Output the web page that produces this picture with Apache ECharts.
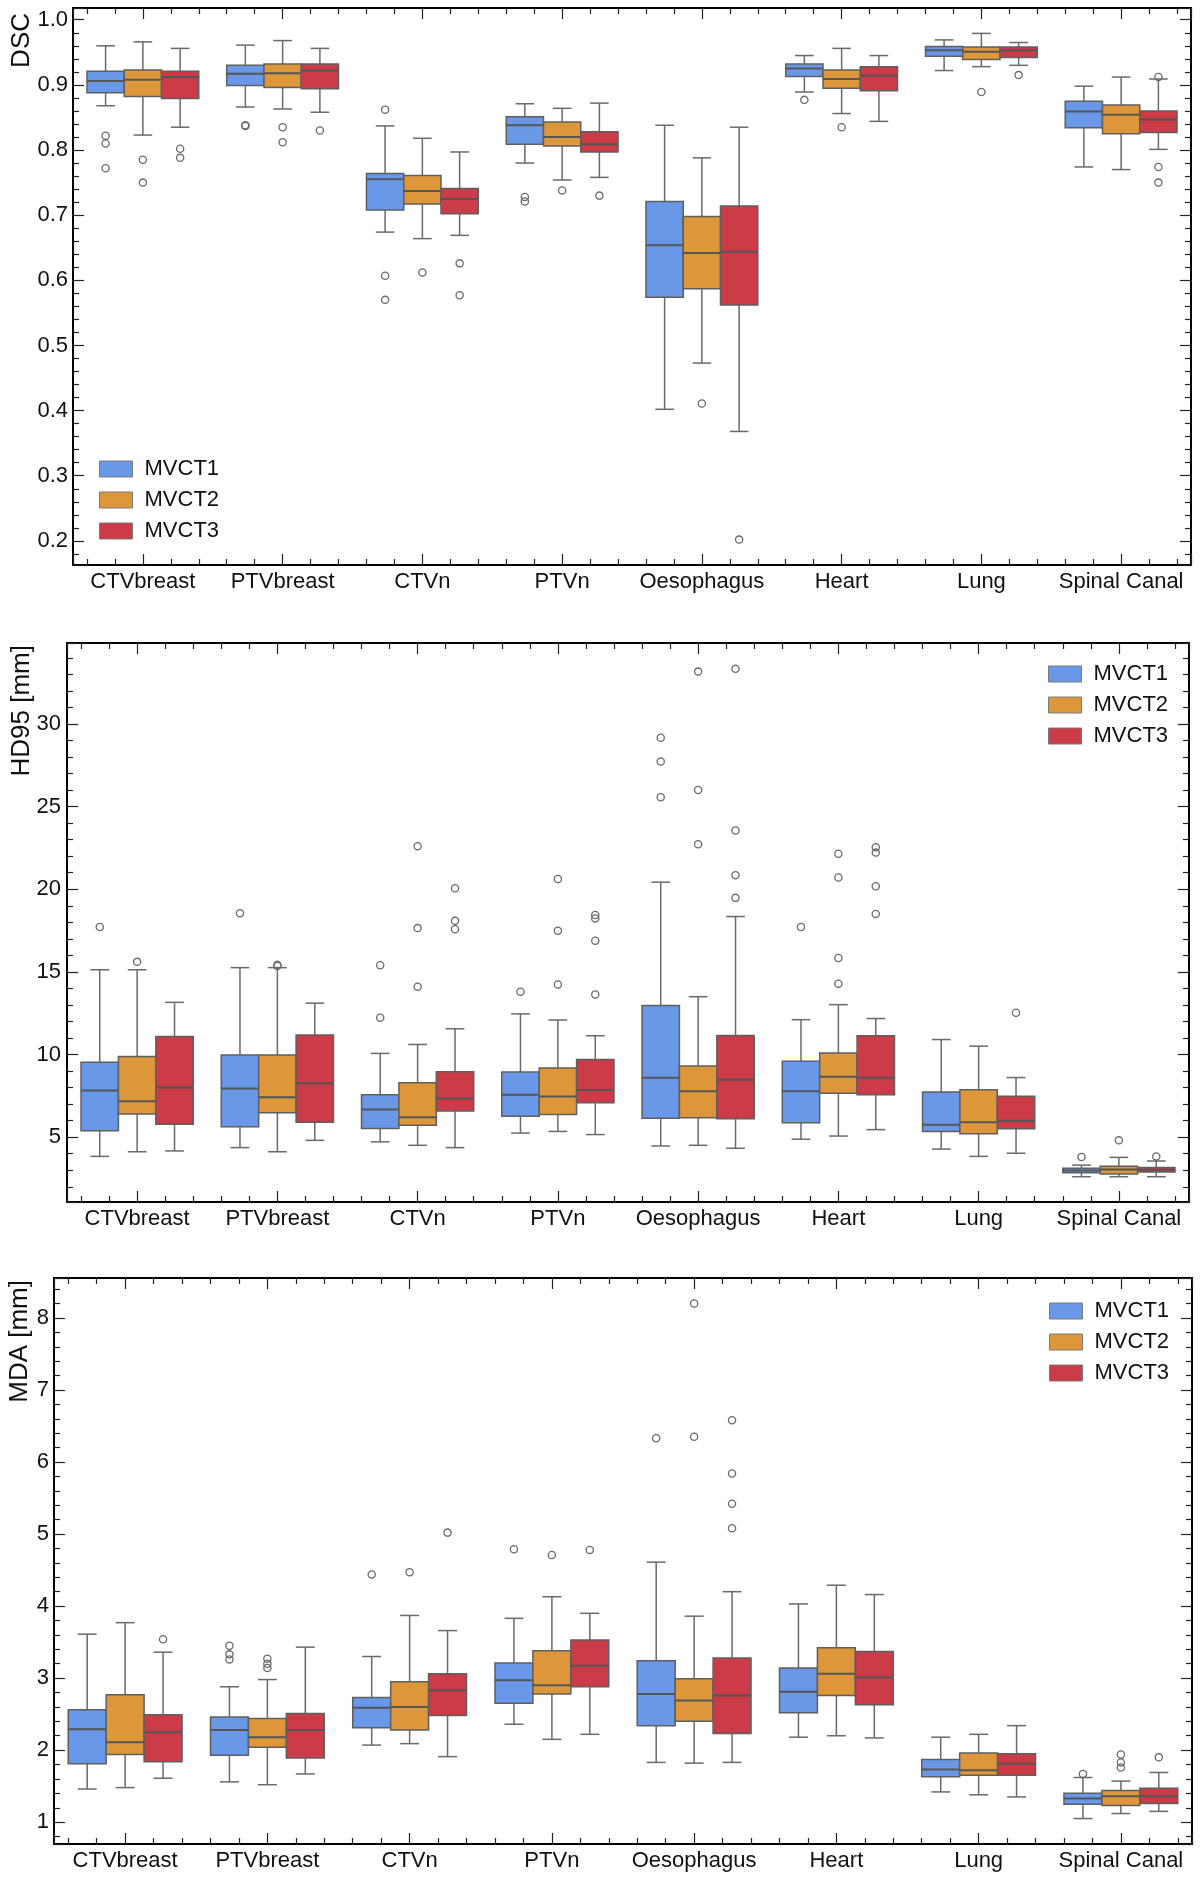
<!DOCTYPE html>
<html>
<head>
<meta charset="utf-8">
<script src="https://cdn.jsdelivr.net/npm/echarts@6/dist/echarts.min.js"></script>
<style>
  html, body { margin: 0; padding: 0; background: #fff; }
  #main { width: 1200px; height: 1879px; }
</style>
</head>
<body>
<div id="main"></div>
<script>
const organs = ['CTVbreast', 'PTVbreast', 'CTVn', 'PTVn', 'Oesophagus', 'Heart', 'Lung', 'Spinal Canal'];
const scans = ['MVCT1', 'MVCT2', 'MVCT3'];
const scanColors = ['#6a98e8', '#dd963a', '#cb3b48'];

// each row: [lower whisker, Q1, median, Q3, upper whisker]
const dscMvct1 = [
  [0.868, 0.888, 0.906, 0.921, 0.960],
  [0.866, 0.899, 0.917, 0.930, 0.961],
  [0.674, 0.708, 0.755, 0.764, 0.837],
  [0.780, 0.809, 0.838, 0.851, 0.871],
  [0.402, 0.574, 0.654, 0.721, 0.838],
  [0.889, 0.913, 0.925, 0.932, 0.945],
  [0.922, 0.944, 0.953, 0.959, 0.969],
  [0.774, 0.834, 0.859, 0.875, 0.898]
];
const dscMvct2 = [
  [0.823, 0.882, 0.908, 0.923, 0.966],
  [0.863, 0.896, 0.918, 0.932, 0.968],
  [0.664, 0.717, 0.737, 0.761, 0.818],
  [0.754, 0.806, 0.820, 0.843, 0.864],
  [0.473, 0.587, 0.642, 0.698, 0.788],
  [0.856, 0.895, 0.909, 0.923, 0.956],
  [0.928, 0.939, 0.951, 0.958, 0.979],
  [0.770, 0.825, 0.854, 0.869, 0.912]
];
const dscMvct3 = [
  [0.835, 0.879, 0.912, 0.921, 0.956],
  [0.858, 0.894, 0.922, 0.932, 0.956],
  [0.669, 0.702, 0.725, 0.741, 0.797],
  [0.758, 0.797, 0.809, 0.828, 0.872],
  [0.368, 0.562, 0.644, 0.714, 0.835],
  [0.844, 0.891, 0.914, 0.928, 0.945],
  [0.930, 0.942, 0.953, 0.958, 0.965],
  [0.801, 0.827, 0.847, 0.860, 0.909]
];
// outliers per organ
const dscOut1 = [[0.822, 0.810, 0.772], [0.838, 0.837], [0.862, 0.607, 0.570], [0.728, 0.721], [], [0.877], [], []];
const dscOut2 = [[0.785, 0.750], [0.835, 0.812], [0.612], [0.738], [0.411], [0.835], [0.889], []];
const dscOut3 = [[0.802, 0.788], [0.830], [0.626, 0.577], [0.730], [0.202], [], [0.915], [0.912, 0.774, 0.750]];

const hdMvct1 = [
  [3.84, 5.39, 7.83, 9.54, 15.13],
  [4.37, 5.63, 7.94, 9.98, 15.26],
  [4.72, 5.53, 6.67, 7.57, 10.07],
  [5.25, 6.27, 7.57, 8.94, 12.46],
  [4.47, 6.14, 8.59, 12.97, 20.43],
  [4.88, 5.88, 7.78, 9.59, 12.11],
  [4.28, 5.35, 5.76, 7.73, 10.91],
  [2.61, 2.85, 2.98, 3.12, 3.31]
];
const hdMvct2 = [
  [4.12, 6.41, 7.18, 9.89, 15.13],
  [4.12, 6.48, 7.41, 9.98, 15.26],
  [4.51, 5.72, 6.20, 8.29, 10.61],
  [5.35, 6.37, 7.46, 9.19, 12.09],
  [4.51, 6.18, 7.78, 9.31, 13.50],
  [5.07, 7.66, 8.66, 10.10, 13.02],
  [3.84, 5.21, 5.90, 7.87, 10.51],
  [2.61, 2.78, 3.05, 3.24, 3.78]
];
const hdMvct3 = [
  [4.17, 5.79, 8.01, 11.09, 13.16],
  [4.81, 5.90, 8.27, 11.19, 13.11],
  [4.37, 6.58, 7.34, 8.96, 11.56],
  [5.16, 7.09, 7.85, 9.70, 11.14],
  [4.33, 6.11, 8.48, 11.16, 18.35],
  [5.46, 7.57, 8.59, 11.14, 12.18],
  [4.03, 5.51, 6.00, 7.48, 8.61],
  [2.61, 2.89, 3.03, 3.17, 3.56]
];
const hdOut1 = [[17.72], [18.55], [15.40, 12.23], [13.80], [29.17, 27.73, 25.57], [17.72], [], [3.80]];
const hdOut2 = [[15.61], [15.36, 15.43], [22.61, 17.65, 14.11], [20.62, 17.49, 14.24], [33.17, 26.01, 22.72], [22.15, 20.71, 15.84, 14.29], [], [4.81]];
const hdOut3 = [[], [], [20.06, 18.09, 17.58], [18.44, 18.23, 16.89, 13.64], [33.34, 23.56, 20.85, 19.48], [22.54, 22.22, 20.18, 18.51], [12.53], [3.84]];

const mdaMvct1 = [
  [1.46, 1.81, 2.29, 2.56, 3.61],
  [1.56, 1.93, 2.28, 2.46, 2.88],
  [2.07, 2.31, 2.59, 2.73, 3.30],
  [2.36, 2.65, 2.97, 3.21, 3.83],
  [1.83, 2.34, 2.78, 3.24, 4.61],
  [2.18, 2.52, 2.81, 3.14, 4.03],
  [1.42, 1.63, 1.73, 1.87, 2.18],
  [1.05, 1.25, 1.33, 1.40, 1.62]
];
const mdaMvct2 = [
  [1.48, 1.94, 2.11, 2.77, 3.77],
  [1.52, 2.04, 2.18, 2.44, 2.98],
  [2.09, 2.28, 2.60, 2.95, 3.87],
  [2.15, 2.78, 2.90, 3.38, 4.13],
  [1.82, 2.40, 2.69, 2.99, 3.86],
  [2.20, 2.76, 3.06, 3.42, 4.29],
  [1.38, 1.65, 1.72, 1.96, 2.22],
  [1.12, 1.23, 1.36, 1.44, 1.57]
];
const mdaMvct3 = [
  [1.61, 1.84, 2.25, 2.49, 3.36],
  [1.67, 1.89, 2.28, 2.51, 3.43],
  [1.91, 2.48, 2.83, 3.06, 3.66],
  [2.22, 2.88, 3.17, 3.53, 3.90],
  [1.83, 2.23, 2.76, 3.28, 4.20],
  [2.17, 2.63, 3.01, 3.37, 4.16],
  [1.35, 1.65, 1.81, 1.95, 2.34],
  [1.15, 1.26, 1.36, 1.47, 1.69]
];
const mdaOut1 = [[], [3.45, 3.33, 3.26], [4.44], [4.79], [6.33], [], [], [1.67]];
const mdaOut2 = [[], [3.27, 3.20, 3.14], [4.47], [4.71], [8.20, 6.35], [], [], [1.94, 1.83, 1.76]];
const mdaOut3 = [[3.54], [], [5.02], [4.78], [6.58, 5.84, 5.42, 5.08], [], [], [1.90]];

const FONT = "'Liberation Sans', Arial, Helvetica, sans-serif";
const BOX_W = 0.8 / 3;

const panels = [
  { title: 'DSC', boxes: [dscMvct1, dscMvct2, dscMvct3], outs: [dscOut1, dscOut2, dscOut3],
    grid: { left: 73, top: 8, right: 9, height: 557 }, yMin: 0.163, yMax: 1.018, split: 8, dec: 1,
    labelMargin: 5, titlePos: [22, 13],
    legend: { left: 94, top: 453 } },
  { title: 'HD95 [mm]', boxes: [hdMvct1, hdMvct2, hdMvct3], outs: [hdOut1, hdOut2, hdOut3],
    grid: { left: 67, top: 643, right: 11, height: 559 }, yMin: 1.08, yMax: 34.9, split: 7, dec: 0,
    labelMargin: 6, titlePos: [22, 645],
    legend: { left: 1043, top: 658 } },
  { title: 'MDA [mm]', boxes: [mdaMvct1, mdaMvct2, mdaMvct3], outs: [mdaOut1, mdaOut2, mdaOut3],
    grid: { left: 54, top: 1278, right: 8, height: 566 }, yMin: 0.697, yMax: 8.555, split: 8, dec: 0,
    labelMargin: 5, titlePos: [20, 1280],
    legend: { left: 1044, top: 1295 } }
];

function boxRender(offset) {
  return function (params, api) {
    const x = api.value(0) + offset;
    const lo = api.coord([x, api.value(1)]);
    const q1 = api.coord([x, api.value(2)]);
    const med = api.coord([x, api.value(3)]);
    const q3 = api.coord([x, api.value(4)]);
    const hi = api.coord([x, api.value(5)]);
    const w = api.size([BOX_W, 0])[0];
    const cx = lo[0];
    const ws = { stroke: '#6a6a6a', lineWidth: 1.5 };
    return {
      type: 'group',
      children: [
        { type: 'line', shape: { x1: cx, y1: hi[1], x2: cx, y2: q3[1] }, style: ws },
        { type: 'line', shape: { x1: cx, y1: q1[1], x2: cx, y2: lo[1] }, style: ws },
        { type: 'line', shape: { x1: cx - w / 4, y1: hi[1], x2: cx + w / 4, y2: hi[1] }, style: ws },
        { type: 'line', shape: { x1: cx - w / 4, y1: lo[1], x2: cx + w / 4, y2: lo[1] }, style: ws },
        { type: 'rect', shape: { x: cx - w / 2, y: q3[1], width: w, height: q1[1] - q3[1] },
          style: { fill: api.visual('color'), stroke: '#5f5f5f', lineWidth: 1.5 } },
        { type: 'line', shape: { x1: cx - w / 2, y1: med[1], x2: cx + w / 2, y2: med[1] },
          style: { stroke: '#555', lineWidth: 2 } }
      ]
    };
  };
}

function outRender(offset) {
  return function (params, api) {
    const p = api.coord([api.value(0) + offset, api.value(1)]);
    return { type: 'circle', shape: { cx: p[0], cy: p[1], r: 3.6 },
      style: { fill: 'none', stroke: '#6a6a6a', lineWidth: 1.3 } };
  };
}

const grids = [], xAxes = [], yAxes = [], series = [], legends = [], graphics = [];

panels.forEach(function (p, g) {
  grids.push(p.grid);
  const tick = { inside: true, length: 11, lineStyle: { color: '#222', width: 1.2 } };
  const minor = { show: true, splitNumber: 5, length: 6, lineStyle: { color: '#222', width: 1.2 } };
  const frame = { show: true, onZero: false, lineStyle: { color: '#000', width: 2 } };
  ['bottom', 'top'].forEach(function (pos) {
    xAxes.push({
      type: 'value', gridIndex: g, position: pos, min: -0.5, max: 7.5, splitNumber: 8,
      axisLine: frame, axisTick: tick, minorTick: minor, splitLine: { show: false },
      axisLabel: {
        show: pos === 'bottom', margin: 6, fontSize: 22, color: '#111', fontFamily: FONT,
        formatter: function (v) {
          const i = Math.round(v);
          return Math.abs(v - i) < 1e-6 && i >= 0 && i < organs.length ? organs[i] : '';
        }
      }
    });
  });
  ['left', 'right'].forEach(function (pos) {
    yAxes.push({
      type: 'value', gridIndex: g, position: pos, min: p.yMin, max: p.yMax, splitNumber: p.split,
      axisLine: frame, axisTick: tick, minorTick: minor, splitLine: { show: false },
      axisLabel: {
        show: pos === 'left', margin: p.labelMargin, fontSize: 22, color: '#111', fontFamily: FONT,
        formatter: function (v) {
          const step = p.dec === 1 ? 0.1 : (g === 1 ? 5 : 1);
          const k = Math.round(v / step);
          return Math.abs(v / step - k) < 1e-6 ? (k * step).toFixed(p.dec) : '';
        }
      }
    });
  });
  scans.forEach(function (name, i) {
    const offset = (i - 1) * BOX_W;
    series.push({
      type: 'custom', name: name, xAxisIndex: 2 * g, yAxisIndex: 2 * g,
      itemStyle: { color: scanColors[i] },
      renderItem: boxRender(offset),
      encode: { x: 0, y: [1, 2, 3, 4, 5] },
      data: p.boxes[i].map(function (b, c) { return [c].concat(b); }),
      silent: true
    });
    const outData = [];
    p.outs[i].forEach(function (vals, c) {
      vals.forEach(function (v) { outData.push([c, v]); });
    });
    series.push({
      type: 'custom', name: name + ' outliers', xAxisIndex: 2 * g, yAxisIndex: 2 * g,
      renderItem: outRender(offset),
      encode: { x: 0, y: 1 },
      data: outData,
      silent: true
    });
  });
  legends.push({
    data: scans, orient: 'vertical', left: p.legend.left, top: p.legend.top,
    itemWidth: 33, itemHeight: 16, itemGap: 9, icon: 'rect', selectedMode: false,
    itemStyle: { borderColor: '#7a7a7a', borderWidth: 1 },
    textStyle: { fontSize: 22, color: '#111', fontFamily: FONT, padding: [0, 0, 0, 7] }
  });
  graphics.push({
    type: 'text', x: p.titlePos[0], y: p.titlePos[1], rotation: Math.PI / 2,
    style: { text: p.title, fontSize: 26, fill: '#111', fontFamily: FONT, align: 'right', verticalAlign: 'middle' }
  });
});

const chart = echarts.init(document.getElementById('main'), null, { renderer: 'canvas' });
chart.setOption({
  animation: false,
  backgroundColor: '#fff',
  grid: grids,
  xAxis: xAxes,
  yAxis: yAxes,
  legend: legends,
  graphic: graphics,
  series: series
});
</script>
</body>
</html>
